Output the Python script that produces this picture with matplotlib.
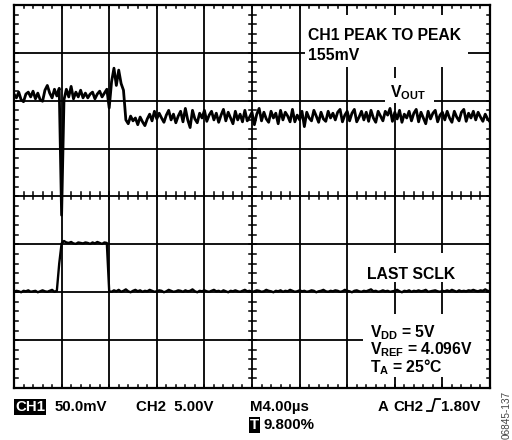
import matplotlib
matplotlib.use("Agg")
import matplotlib.pyplot as plt
import numpy as np
from matplotlib.patches import Rectangle
from matplotlib.lines import Line2D

plt.rcParams['font.family'] = ['Liberation Sans', 'DejaVu Sans']
plt.rcParams['font.weight'] = 'bold'
plt.rcParams['mathtext.fontset'] = 'custom'
plt.rcParams['mathtext.rm'] = 'Liberation Sans:bold'
plt.rcParams['mathtext.it'] = 'Liberation Sans:bold'
plt.rcParams['mathtext.bf'] = 'Liberation Sans:bold'

# scope settings
us_per_div = 4.0
dt_us = 0.2          # sample spacing

# CH1 (VOUT), in screen divisions from the bottom graticule line
ch1_div = [
    6.14, 6.06, 6.18, 6.02, 5.98, 6.14, 6.18, 6.08, 6.20, 6.04,
    6.16, 6.02, 5.99, 6.22, 6.32, 6.16, 6.06, 6.24, 6.10, 6.26,
    3.61,
    6.02, 6.24, 6.08, 6.30, 6.04, 6.18, 6.08, 6.22, 6.06, 6.16,
    6.06, 6.14, 6.18, 6.04, 6.14, 6.20, 6.08, 6.16, 6.24,
    5.85,
    6.40, 6.68, 6.32, 6.64, 6.36, 6.22,
    5.60, 5.52, 5.68, 5.58, 5.64, 5.50, 5.66, 5.56, 5.48, 5.62,
    5.72, 5.58, 5.78, 5.62, 5.74, 5.64, 5.55, 5.70, 5.80, 5.60,
    5.72, 5.54, 5.68, 5.78, 5.56, 5.84, 5.60, 5.44, 5.80, 5.62,
    5.54, 5.74, 5.64, 5.80, 5.57, 5.70, 5.78, 5.60, 5.74, 5.55,
    5.70, 5.82, 5.58, 5.76, 5.64, 5.52, 5.78, 5.60, 5.72, 5.56,
    5.80, 5.58, 5.66, 5.76, 5.50, 5.72, 5.84, 5.58, 5.76, 5.62,
    5.55, 5.78, 5.64, 5.74, 5.52, 5.80, 5.60, 5.76, 5.68, 5.56,
    5.82, 5.56, 5.70, 5.60, 5.78, 5.46, 5.76, 5.64, 5.58, 5.80,
    5.68, 5.55, 5.76, 5.62, 5.57, 5.78, 5.64, 5.74, 5.60, 5.76,
    5.82, 5.56, 5.70, 5.78, 5.58, 5.74, 5.82, 5.56, 5.66, 5.78,
    5.60, 5.76, 5.57, 5.80, 5.64, 5.55, 5.78, 5.68, 5.58, 5.78,
    5.70, 5.84, 5.57, 5.76, 5.62, 5.80, 5.55, 5.72, 5.64, 5.78,
    5.58, 5.74, 5.82, 5.56, 5.76, 5.64, 5.52, 5.78, 5.62, 5.74,
    5.80, 5.56, 5.70, 5.76, 5.60, 5.78, 5.64, 5.55, 5.78, 5.66,
    5.58, 5.76, 5.82, 5.57, 5.74, 5.64, 5.78, 5.60, 5.76, 5.66,
    5.57, 5.72, 5.62, 5.56,
]

# CH2 (SCLK)
ch2_div = [
    2.01, 2.03, 2.02, 2.00, 2.03, 2.02, 2.04, 2.01, 2.02, 2.03,
    2.00, 2.02, 2.04, 2.02, 2.01, 2.03, 2.05, 2.01, 2.03,
    2.60,
    3.02, 3.07, 3.04, 3.03, 3.05, 3.02, 3.01, 3.04, 3.03, 3.02,
    3.04, 3.03, 3.01, 3.04, 3.02, 3.05, 3.03, 3.01, 3.04, 3.03,
    2.02, 2.01, 2.04, 2.02, 2.05, 2.01, 2.03, 2.06, 2.02, 2.00,
    2.03, 2.05, 2.02, 2.04, 2.01, 2.03, 2.02, 2.05, 2.03, 2.01,
    2.02, 2.04, 2.03, 2.00, 2.02, 2.05, 2.03, 2.01, 2.02, 2.04,
    2.03, 2.01, 2.04, 2.02, 2.03, 2.06, 2.02, 2.00, 2.03, 2.02,
    2.04, 2.02, 2.01, 2.03, 2.05, 2.02, 2.03, 2.01, 2.04, 2.02,
    2.00, 2.03, 2.02, 2.04, 2.02, 2.01, 2.03, 2.05, 2.02, 2.03,
    2.01, 2.02, 2.04, 2.03, 2.01, 2.02, 2.05, 2.03, 2.02, 2.00,
    2.03, 2.02, 2.04, 2.01, 2.03, 2.02, 2.05, 2.03, 2.01, 2.02,
    2.04, 2.02, 2.03, 2.01, 2.02, 2.04, 2.03, 2.00, 2.02, 2.03,
    2.05, 2.02, 2.01, 2.03, 2.02, 2.04, 2.03, 2.01, 2.02, 2.05,
    2.03, 2.02, 2.00, 2.03, 2.04, 2.02, 2.01, 2.03, 2.02, 2.04,
    2.06, 2.02, 2.03, 2.01, 2.02, 2.04, 2.02, 2.03, 2.01, 2.02,
    2.03, 2.05, 2.02, 2.00, 2.03, 2.02, 2.04, 2.01, 2.03, 2.02,
    2.04, 2.02, 2.03, 2.05, 2.01, 2.02, 2.03, 2.04, 2.02, 2.01,
    2.03, 2.02, 2.04, 2.02, 2.05, 2.03, 2.01, 2.04, 2.02, 2.03,
    2.02, 2.04, 2.03, 2.05, 2.03, 2.02, 2.04, 2.03, 2.06, 2.03,
    2.02,
]

t1 = np.arange(len(ch1_div)) * dt_us
t2 = np.arange(len(ch2_div)) * dt_us

W, H = 512, 440
L, R, T, B = 14, 490, 5, 388

fig = plt.figure(figsize=(W / 100, H / 100), dpi=100)
ax = fig.add_axes([L / W, (H - B) / H, (R - L) / W, (B - T) / H])
ax.set_xlim(0, 10 * us_per_div)
ax.set_ylim(0, 8)
ax.set_xticks([])
ax.set_yticks([])
for s in ax.spines.values():
    s.set_linewidth(1.6)
    s.set_zorder(6)


def dx(x):  # pixel -> data
    return (x - L) / (R - L) * 10 * us_per_div


def dy(y):
    return (B - y) / (B - T) * 8


# graticule
for i in range(1, 10):
    ax.axvline(i * us_per_div, color='black', lw=1.3, zorder=1)
for j in range(1, 8):
    ax.axhline(j, color='black', lw=1.3, zorder=1)

# white boxes behind the labels
boxes = [(305, 15, 468, 67), (385, 78, 434, 103), (362, 253, 460, 282), (363, 314, 488, 377)]
for x0, y0, x1, y1 in boxes:
    ax.add_patch(Rectangle((dx(x0), dy(y1)), dx(x1) - dx(x0), dy(y0) - dy(y1),
                           facecolor='white', edgecolor='none', zorder=2))

# minor ticks on edges and center lines
tk = 3.5
minor_x = np.arange(1, 50) * us_per_div / 5
minor_y = np.arange(1, 40) * 0.2
for x in minor_x:
    ax.plot([x, x], [8, dy(T + tk)], color='black', lw=1.1, zorder=3)
    ax.plot([x, x], [0, dy(B - tk)], color='black', lw=1.1, zorder=3)
    ax.plot([x, x], [dy(196 - tk), dy(196 + tk)], color='black', lw=1.1, zorder=3)
for y in minor_y:
    ax.plot([0, dx(L + tk)], [y, y], color='black', lw=1.1, zorder=3)
    ax.plot([dx(R - tk), 40], [y, y], color='black', lw=1.1, zorder=3)
    ax.plot([dx(252 - tk), dx(252 + tk)], [y, y], color='black', lw=1.1, zorder=3)

# traces
ax.plot(t1, ch1_div, color='black', lw=2.0, zorder=4)
ax.plot(t2, ch2_div, color='black', lw=1.7, zorder=4)

# labels inside screen
fs = 11.3
ax.text(dx(308), dy(40), 'CH1 PEAK TO PEAK', fontsize=fs, va='baseline', zorder=5)
ax.text(dx(308), dy(60), '155mV', fontsize=fs, va='baseline', zorder=5)
ax.text(dx(390), dy(97), r'$V_{OUT}$', fontsize=fs, va='baseline', zorder=5)
ax.text(dx(367), dy(279), 'LAST SCLK', fontsize=fs, va='baseline', zorder=5)
ax.text(dx(370), dy(337), r'$V_{DD}$ = 5V', fontsize=fs, va='baseline', zorder=5)
ax.text(dx(370), dy(354), r'$V_{REF}$ = 4.096V', fontsize=fs, va='baseline', zorder=5)
ax.text(dx(370), dy(372), r'$T_{A}$ = 25°C', fontsize=fs, va='baseline', zorder=5)


# readout below the screen
def fx(x):
    return x / W


def fy(y):
    return 1 - y / H


bfs = 10.8
fig.text(fx(15), fy(411), 'CH1', fontsize=bfs, va='baseline', color='white',
         bbox=dict(facecolor='black', edgecolor='none', pad=0.4))
fig.text(fx(55), fy(411), '50.0mV', fontsize=bfs, va='baseline')
fig.text(fx(136), fy(411), 'CH2  5.00V', fontsize=bfs, va='baseline')
fig.text(fx(250), fy(411), 'M4.00µs', fontsize=bfs, va='baseline')
fig.text(fx(378), fy(411), 'A', fontsize=bfs, va='baseline')
fig.text(fx(393), fy(411), 'CH2', fontsize=bfs, va='baseline')
fig.text(fx(441), fy(411), '1.80V', fontsize=bfs, va='baseline')
fig.text(fx(250), fy(429), 'T', fontsize=bfs, va='baseline', color='white',
         bbox=dict(facecolor='black', edgecolor='none', pad=0.4))
fig.text(fx(264), fy(429), '9.800%', fontsize=bfs, va='baseline')

# rising-edge trigger symbol
sym_x = [427, 432, 435, 440]
sym_y = [411, 411, 399, 399]
fig.add_artist(Line2D([fx(v) for v in sym_x], [fy(v) for v in sym_y],
                      transform=fig.transFigure, color='black', lw=1.3))

fig.text(fx(507), fy(439), '06845-137', fontsize=7.2, rotation=90, ha='center',
         va='bottom', color='#444444', fontweight='normal')

fig.savefig('out.png', dpi=100)
